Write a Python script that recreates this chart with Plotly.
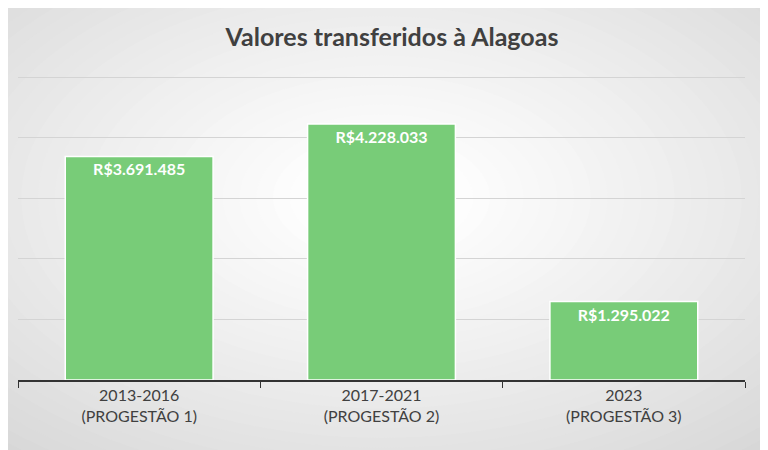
import plotly.graph_objects as go

categories = ["2013-2016<br>(PROGESTÃO 1)", "2017-2021<br>(PROGESTÃO 2)", "2023<br>(PROGESTÃO 3)"]
values = [3691485, 4228033, 1295022]
labels = ["R$3.691.485", "R$4.228.033", "R$1.295.022"]

fig = go.Figure(go.Bar(
    x=categories, y=values, text=labels, textposition="inside",
    insidetextanchor="end",
    textfont=dict(color="white", size=16, family="Lato"),
    marker=dict(color="#78CC78", line=dict(color="white", width=1.5)),
    width=0.61, cliponaxis=False,
))
fig.update_traces(texttemplate="<b>%{text}</b>")

shapes = []
n = 40
for i in range(n):
    t = i / (n - 1)
    g = int(round(200 + (255 - 200) * t ** 0.8))
    s = 0.9 * (1 - t) + 0.08
    shapes.append(dict(type="circle", xref="paper", yref="paper",
                       x0=0.5 - s, x1=0.5 + s, y0=0.6 - s * 1.4, y1=0.6 + s * 1.4,
                       fillcolor=f"rgb({g},{g},{g})", line=dict(width=0), layer="below"))

fig.update_layout(
    width=768, height=450,
    margin=dict(l=10, r=31, t=68, b=78),
    paper_bgcolor="rgb(200,200,200)", plot_bgcolor="rgba(0,0,0,0)",
    shapes=shapes,
    title=dict(text="<b>Valores transferidos à Alagoas</b>", x=0.5, xanchor="center",
               y=0.935, yanchor="middle",
               font=dict(size=25, color="#404040", family="Lato")),
    showlegend=False,
    xaxis=dict(showline=True, linecolor="#333", linewidth=2, ticks="outside",
               tickson="boundaries", ticklen=6, tickcolor="#333",
               tickfont=dict(size=16, color="#404040", family="Lato")),
    yaxis=dict(range=[0, 5020000], showticklabels=False, showgrid=True,
               gridcolor="#D4D4D4", gridwidth=1.2, zeroline=False, dtick=1000000),
)
fig.write_html("out.html")
